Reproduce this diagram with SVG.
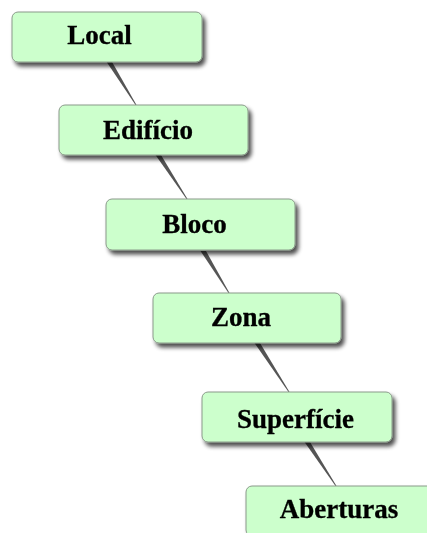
<svg xmlns="http://www.w3.org/2000/svg" width="427" height="533" viewBox="0 0 427 533">
<defs>
<filter id="sh" x="-10%" y="-20%" width="130%" height="150%">
<feGaussianBlur in="SourceAlpha" stdDeviation="2"/>
<feOffset dx="3" dy="4" result="b"/>
<feComponentTransfer><feFuncA type="linear" slope="0.7"/></feComponentTransfer>
<feMerge><feMergeNode/><feMergeNode in="SourceGraphic"/></feMerge>
</filter>
<filter id="lsh" x="-50%" y="-20%" width="200%" height="140%">
<feGaussianBlur stdDeviation="0.7"/>
</filter>
</defs>
<style>
.box{fill:#ccffcc;stroke:#8a9a8a;stroke-width:1}
.lbl{font-family:"Liberation Serif","Times New Roman",serif;font-weight:bold;font-size:27px;fill:#000;text-anchor:middle;stroke:#000;stroke-width:0.3}
.conn{fill:#555}
</style>
<rect width="427" height="533" fill="#fff"/>
<g id="connectors" filter="url(#lsh)">
<polygon class="conn" points="106,61 111.5,61 136.5,105 135.5,105"/>
<polygon class="conn" points="155.5,155 161,155 187.5,199 186.5,199"/>
<polygon class="conn" points="200.5,251 206,251 229.5,293 228.5,293"/>
<polygon class="conn" points="254.5,343 260,343 289.5,392 288.5,392"/>
<polygon class="conn" points="304.5,442 310,442 336.5,486 335.5,486"/>
</g>
<g id="local" filter="url(#sh)">
<rect class="box" x="12" y="12" width="190" height="50" rx="6"/>
<text class="lbl" x="99.5" y="44">Local</text>
</g>
<g id="edificio" filter="url(#sh)">
<rect class="box" x="59" y="105" width="189" height="50" rx="6"/>
<text class="lbl" x="148" y="139">Edifício</text>
</g>
<g id="bloco" filter="url(#sh)">
<rect class="box" x="106" y="199" width="189" height="51" rx="6"/>
<text class="lbl" x="194.5" y="233">Bloco</text>
</g>
<g id="zona" filter="url(#sh)">
<rect class="box" x="153" y="293" width="188" height="50" rx="6"/>
<text class="lbl" x="241" y="326">Zona</text>
</g>
<g id="superficie" filter="url(#sh)">
<rect class="box" x="202" y="392" width="190" height="50" rx="6"/>
<text class="lbl" x="295.5" y="428">Superfície</text>
</g>
<g id="aberturas" filter="url(#sh)">
<rect class="box" x="246" y="486" width="190" height="50" rx="6"/>
<text class="lbl" x="339" y="518">Aberturas</text>
</g>
</svg>
